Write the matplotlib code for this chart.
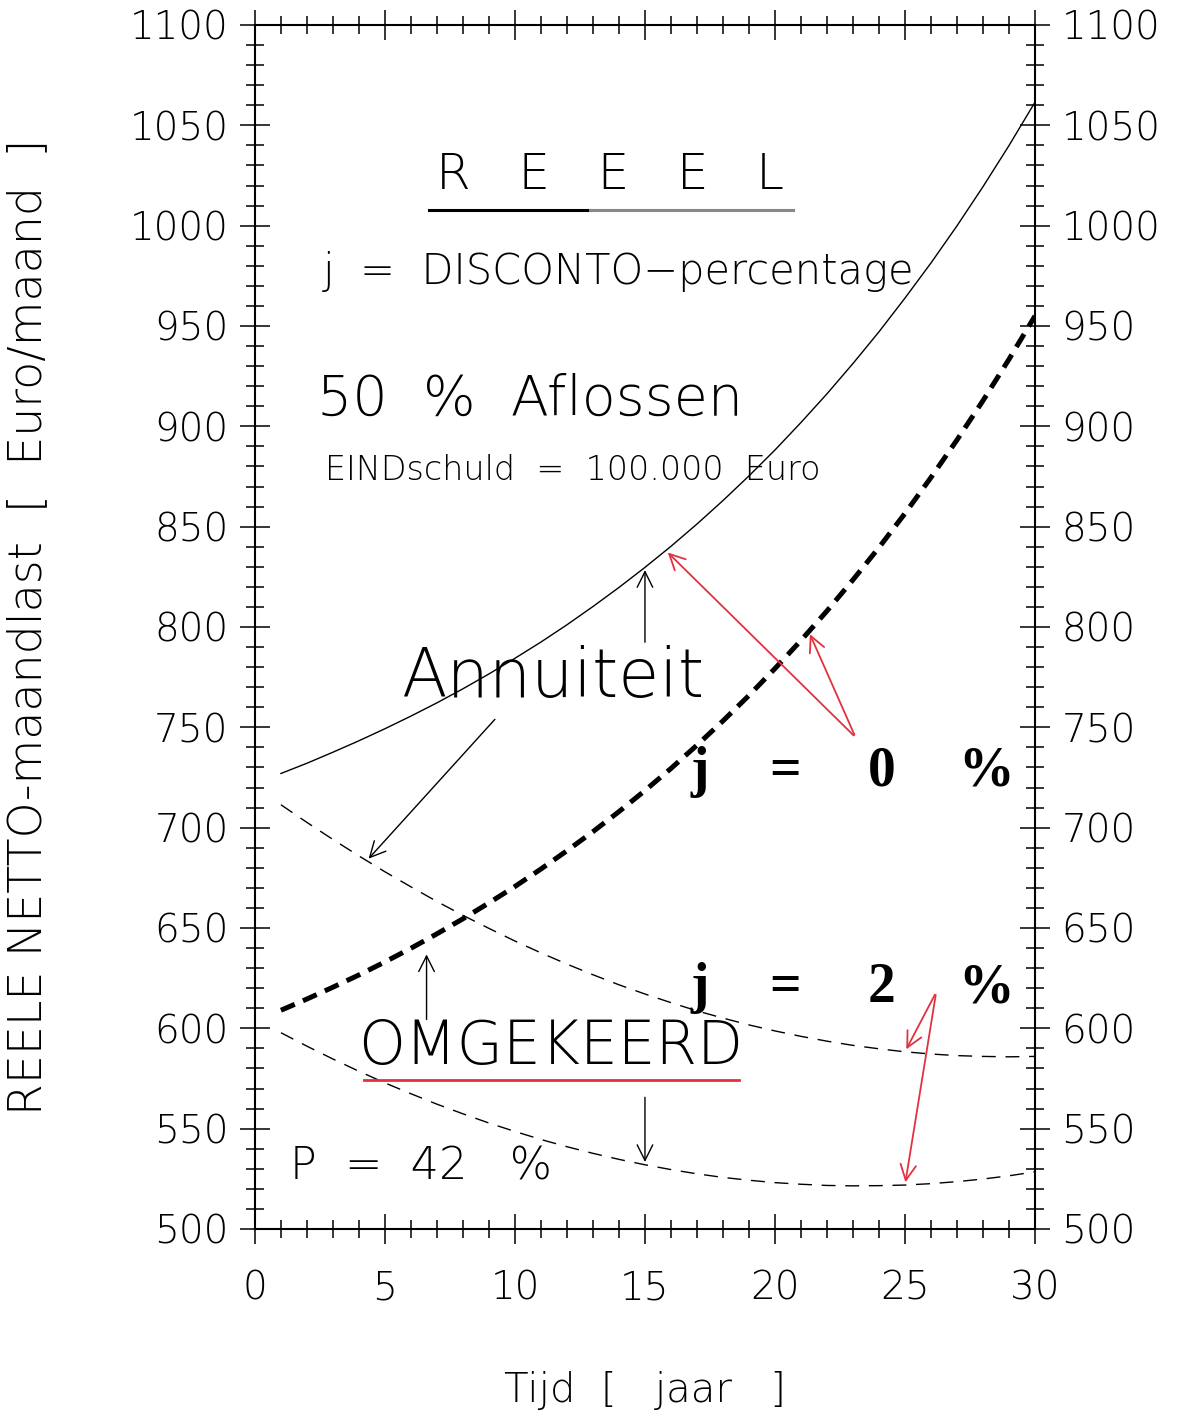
import numpy as np
import matplotlib
matplotlib.use('Agg')
import matplotlib.pyplot as plt
from matplotlib.ticker import MultipleLocator

plt.rcParams['font.family'] = ['DejaVu Sans']
plt.rcParams['font.weight'] = 'light'
plt.rcParams['axes.labelweight'] = 'light'

# tijd in jaren
jaar = np.arange(1, 31)

# reele netto maandlast, j = 0 %
annuiteit_j0 = [727.0, 732.1, 737.6, 743.3, 749.3, 755.6, 762.2, 769.2, 776.6, 784.4,
                792.5, 801.1, 810.2, 819.7, 829.7, 840.2, 851.3, 863.0, 875.3, 888.2,
                901.9, 916.2, 931.3, 947.1, 963.9, 981.4, 999.9, 1019.4, 1039.9, 1061.5]
omgekeerd_j0 = [609.0, 614.6, 620.5, 626.6, 633.1, 639.9, 647.1, 654.6, 662.5, 670.7,
                679.4, 688.5, 698.0, 708.0, 718.5, 729.5, 741.1, 753.2, 765.9, 779.3,
                793.3, 808.0, 823.5, 839.6, 856.6, 874.5, 893.2, 912.8, 933.4, 955.0]

# reele netto maandlast, j = 2 %
annuiteit_j2 = [711.4, 702.6, 694.1, 685.9, 678.0, 670.5, 663.2, 656.3, 649.8, 643.5,
                637.6, 632.0, 626.7, 621.7, 617.1, 612.8, 608.7, 605.1, 601.7, 598.7,
                596.0, 593.6, 591.5, 589.8, 588.3, 587.2, 586.4, 586.0, 585.8, 586.0]
omgekeerd_j2 = [597.8, 591.1, 584.7, 578.6, 572.8, 567.4, 562.2, 557.4, 552.8, 548.6,
                544.6, 541.0, 537.7, 534.7, 532.0, 529.6, 527.5, 525.7, 524.3, 523.1,
                522.3, 521.7, 521.5, 521.6, 521.9, 522.6, 523.6, 524.9, 526.5, 528.5]

x_ticks = [0, 5, 10, 15, 20, 25, 30]
y_ticks = [500, 550, 600, 650, 700, 750, 800, 850, 900, 950, 1000, 1050, 1100]

RED = '#e2313f'


def y_at(t, serie):
    return np.interp(t, jaar, serie)


fig = plt.figure(figsize=(11.88, 14.19), dpi=100)
ax = fig.add_axes([0.2146, 0.1339, 0.6566, 0.8485])

ax.plot(jaar, annuiteit_j0, color='black', lw=1.0)
ax.plot(jaar, omgekeerd_j0, color='black', lw=3.6, dashes=(3.0, 1.8))
ax.plot(jaar, annuiteit_j2, color='black', lw=1.0, dashes=(10, 7))
ax.plot(jaar, omgekeerd_j2, color='black', lw=1.0, dashes=(10, 7))

ax.set_xlim(0, 30)
ax.set_ylim(500, 1100)
ax.xaxis.set_minor_locator(MultipleLocator(1))
ax.yaxis.set_minor_locator(MultipleLocator(10))
ax.set_xticks(x_ticks)
ax.set_yticks(y_ticks)

for s in ax.spines.values():
    s.set_linewidth(1.5)

ax.tick_params(which='both', direction='inout', top=True, right=True,
               labelright=True, width=1.1, colors='black')
ax.tick_params(which='major', length=22)
ax.tick_params(which='minor', length=13)
ax.tick_params(axis='x', which='major', labelsize=28, pad=18)
ax.tick_params(axis='y', which='major', labelsize=28, pad=8)

ax.set_xlabel('Tijd  [   jaar   ]', fontsize=29, labelpad=46)
ax.set_ylabel('REELE NETTO-maandlast  [  Euro/maand  ]', fontsize=33)
ax.yaxis.set_label_coords(-0.262, 0.5)

# titels en toelichting
ax.text(13.65, 1025, 'R   E   E   E   L', fontsize=36, ha='center', va='center')
ax.plot([6.7, 12.9], [1008, 1008], color='black', lw=2.2)
ax.plot([12.9, 20.7], [1008, 1008], color='#888888', lw=2.2)
ax.text(2.6, 977, 'j  =  DISCONTO\u2212percentage', fontsize=30, va='center')
ax.text(2.4, 913, '50  %  Aflossen', fontsize=40, va='center')
ax.text(2.7, 878, 'EINDschuld  =  100.000  Euro', fontsize=24, va='center')
ax.text(5.6, 765, 'Annuiteit', fontsize=48, va='baseline')
ax.text(3.95, 582, 'OMGEKEERD', fontsize=43, va='baseline')
ax.plot([4.2, 18.6], [574, 574], color=RED, lw=2.0)
ax.text(1.35, 524.5, 'P  =  42   %', fontsize=32, va='baseline')

# disconto-labels
for y0, tekst in [(721, '0'), (613, '2')]:
    for xp, s in zip([17.1, 20.4, 24.1, 28.1], ['j', '=', tekst, '%']):
        ax.text(xp, y0, s, fontsize=40, fontweight='bold', ha='center',
                va='baseline', family='Liberation Serif')

# pijlen naar de curves
black = dict(arrowstyle='->', color='black', lw=1.0, mutation_scale=28)
red = dict(arrowstyle='->', color=RED, lw=1.3, mutation_scale=28)
ax.annotate('', xy=(15, y_at(15, annuiteit_j0)), xytext=(15, 791), arrowprops=black)
ax.annotate('', xy=(4.3, y_at(4.3, annuiteit_j2)), xytext=(9.3, 755), arrowprops=black)
ax.annotate('', xy=(6.6, y_at(6.6, omgekeerd_j0) - 6), xytext=(6.6, 603), arrowprops=black)
ax.annotate('', xy=(15, y_at(15, omgekeerd_j2)), xytext=(15, 567), arrowprops=black)
ax.annotate('', xy=(15.8, y_at(15.8, annuiteit_j0)), xytext=(23.1, 745), arrowprops=red)
ax.annotate('', xy=(21.3, y_at(21.3, omgekeerd_j0)), xytext=(23.1, 745), arrowprops=red)
ax.annotate('', xy=(25, y_at(25, annuiteit_j2)), xytext=(26.2, 618), arrowprops=red)
ax.annotate('', xy=(25, y_at(25, omgekeerd_j2)), xytext=(26.2, 618), arrowprops=red)

fig.savefig('out.png', dpi=100)
